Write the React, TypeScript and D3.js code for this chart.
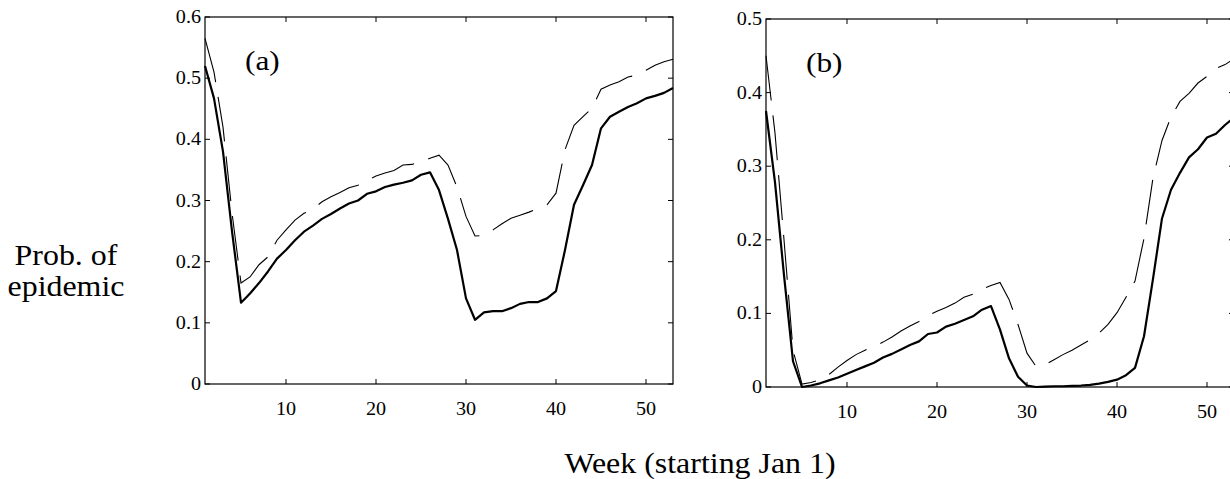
import React from "react";
import * as d3 from "d3";

// ---- data ----
const weeks: number[] = d3.range(1, 54);
const xTicks = [10, 20, 30, 40, 50];
const yTicksA = [0, 0.1, 0.2, 0.3, 0.4, 0.5, 0.6];
const yTicksB = [0, 0.1, 0.2, 0.3, 0.4, 0.5];

const solidA = [0.52,0.467,0.38,0.25,0.133,0.148,0.165,0.184,0.205,0.219,
  0.235,0.249,0.259,0.27,0.278,0.287,0.295,0.300,0.311,0.315,
  0.322,0.326,0.329,0.333,0.342,0.346,0.317,0.27,0.219,0.14,
  0.105,0.117,0.119,0.119,0.124,0.131,0.134,0.134,0.14,0.152,
  0.219,0.293,0.325,0.358,0.418,0.437,0.445,0.453,0.459,0.467,
  0.471,0.476,0.484];
const dashedA = [0.565,0.51,0.42,0.28,0.165,0.175,0.195,0.208,0.235,0.252,
  0.268,0.279,0.286,0.298,0.306,0.313,0.321,0.325,0.333,0.34,
  0.345,0.349,0.358,0.359,0.364,0.369,0.374,0.358,0.322,0.274,
  0.242,0.243,0.252,0.262,0.271,0.276,0.281,0.287,0.293,0.312,
  0.383,0.423,0.437,0.451,0.482,0.489,0.494,0.502,0.505,0.513,
  0.521,0.527,0.531];
const solidB = [0.375,0.278,0.152,0.035,0.0,0.002,0.005,0.009,0.013,0.018,
  0.023,0.028,0.033,0.04,0.045,0.051,0.057,0.062,0.072,0.074,
  0.082,0.086,0.091,0.096,0.105,0.11,0.078,0.039,0.014,0.002,
  0.0,0.0005,0.001,0.001,0.0015,0.002,0.003,0.0045,0.007,0.01,
  0.016,0.026,0.069,0.147,0.229,0.268,0.291,0.312,0.323,0.339,
  0.344,0.356,0.366];
const dashedB = [0.45,0.345,0.2,0.05,0.004,0.006,0.01,0.017,0.027,0.036,
  0.044,0.05,0.055,0.061,0.068,0.076,0.083,0.089,0.097,0.103,
  0.108,0.114,0.122,0.126,0.133,0.138,0.142,0.119,0.085,0.046,
  0.028,0.03,0.037,0.044,0.05,0.057,0.064,0.073,0.085,0.101,
  0.122,0.144,0.202,0.284,0.335,0.367,0.388,0.399,0.413,0.422,
  0.433,0.438,0.446];

const FONT = "'Liberation Serif', 'Times New Roman', Times, serif";
const SX = 1.12; // slight horizontal stretch of the original figure's text

function T({ x, y, size, anchor = "start", children }: any) {
  return (
    <text
      transform={`translate(${x},${y}) scale(${SX},1)`}
      fontFamily={FONT}
      fontSize={size}
      textAnchor={anchor}
      fill="#000"
    >
      {children}
    </text>
  );
}

function Panel({ left, right, top, bottom, yMax, yTicks, solid, dashed, label }: any) {
  const x = d3.scaleLinear().domain([1, 53]).range([left, right]);
  const y = d3.scaleLinear().domain([0, yMax]).range([bottom, top]);
  const line = d3
    .line<number>()
    .x((_, i) => x(weeks[i]))
    .y((d) => y(d));
  const tl = 5;
  return (
    <g>
      <path d={line(dashed) || ""} fill="none" stroke="#000" strokeWidth={1.1} strokeDasharray="45,15" />
      <path d={line(solid) || ""} fill="none" stroke="#000" strokeWidth={2.2} strokeLinejoin="round" />
      <rect x={left} y={top} width={right - left} height={bottom - top} fill="none" stroke="#000" strokeWidth={1.2} />
      {xTicks.map((t) => (
        <g key={"x" + t}>
          <line x1={x(t)} x2={x(t)} y1={bottom} y2={bottom - tl} stroke="#000" />
          <line x1={x(t)} x2={x(t)} y1={top} y2={top + tl} stroke="#000" />
          <T x={x(t)} y={bottom + 31} size={18} anchor="middle">{t}</T>
        </g>
      ))}
      {yTicks.map((t: number) => (
        <g key={"y" + t}>
          <line x1={left} x2={left + tl} y1={y(t)} y2={y(t)} stroke="#000" />
          <line x1={right} x2={right - tl} y1={y(t)} y2={y(t)} stroke="#000" />
          <T x={left - 4} y={y(t) + 6} size={18} anchor="end">{t === 0 ? "0" : d3.format(".1f")(t)}</T>
        </g>
      ))}
      <T x={left + 40} y={top + 53} size={28}>{label}</T>
    </g>
  );
}

export default function App() {
  return (
    <svg
      width={1230}
      height={479}
      style={{ position: "absolute", left: 0, top: 0, background: "#fff" }}
    >
      <rect x={0} y={0} width={1230} height={479} fill="#fff" />
      <Panel left={205} right={673} top={17} bottom={384} yMax={0.6} yTicks={yTicksA}
        solid={solidA} dashed={dashedA} label="(a)" />
      <Panel left={766} right={1234} top={19} bottom={387} yMax={0.5} yTicks={yTicksB}
        solid={solidB} dashed={dashedB} label="(b)" />
      <T x={66} y={265} size={28.5} anchor="middle">Prob. of</T>
      <T x={66} y={296} size={28.5} anchor="middle">epidemic</T>
      <T x={700} y={473} size={28.5} anchor="middle">Week (starting Jan 1)</T>
    </svg>
  );
}
